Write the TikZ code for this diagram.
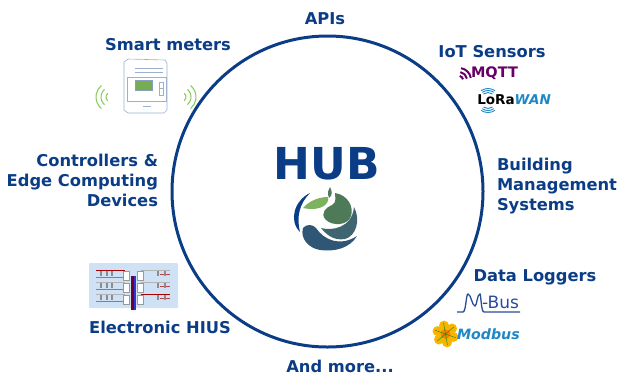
\documentclass[tikz,border=0pt]{standalone}
\usepackage{fontspec}
\setmainfont{DejaVu Sans}
\usetikzlibrary{positioning}
\definecolor{hubblue}{HTML}{0B3D87}
\definecolor{waves}{HTML}{8CCB5E}
\definecolor{panel}{HTML}{CFE2F5}
\definecolor{mqtt}{HTML}{660066}
\definecolor{wan}{HTML}{1E88C7}
\definecolor{busblue}{HTML}{2A4A9A}
\definecolor{leaf}{HTML}{7DB35E}
\definecolor{blob}{HTML}{4F7A58}
\definecolor{midteal}{HTML}{3F6670}
\definecolor{lowteal}{HTML}{2F5675}
\definecolor{petal}{HTML}{F7B500}
\begin{document}
\begin{tikzpicture}[
	x=1pt, y=-1pt,
	every node/.style={inner sep=0pt, outer sep=0pt},
	source/.style={text=hubblue,
				  font=\fontsize{16.3}{20}\selectfont\bfseries
	},
	wave/.style={waves, line width=1.1pt},
	meter/.style={draw=hubblue!40, line width=0.6pt, fill=white},
	pipe/.style={line width=0.7pt}
]
	\useasboundingbox (0,0) rectangle (618,376);
	\node (ring) [draw=hubblue, line width=3pt, circle, minimum size=311pt] at (327.5,191.5) {};
	\node (hub) [text=hubblue, font=\fontsize{44}{44}\selectfont\bfseries] at (327,164) {HUB};

	\node (apis) [source] at (325,19) {APIs};
	\node (smart) [source] at (168,45) {Smart meters};
	\node (iot) [source] at (492,52) {IoT Sensors};
	\node (bms) [source, align=left, anchor=west] at (497,186) {Building\\Management\\Systems};
	\node (loggers) [source] at (535,277) {Data Loggers};
	\node (more) [source] at (340,366) {And more...};
	\node (hius) [source] at (160,327) {Electronic HIUS};
	\node (edge) [source, align=right, anchor=east] at (158,180) {Controllers \&\\Edge Computing\\Devices};

	% logo
	\fill[hubblue] (310,193) .. controls (295,200) and (288,220) .. (300,232) .. controls (296,216) and (300,203) .. (310,193) -- cycle;
	\fill[blob] (329,198) .. controls (327,193) and (328,190) .. (330,187) .. controls (332,191) and (333,195) .. (329,198) -- cycle;
	\fill[leaf] (303,208) .. controls (310,200) and (320,197) .. (328,197) .. controls (330,203) and (322,212) .. (303,208) -- cycle;
	\fill[blob] (335,193) .. controls (348,195) and (354,207) .. (351,216) .. controls (348,226) and (332,226) .. (326,220) .. controls (319,213) and (327,207) .. (332,205) .. controls (337,202) and (335,197) .. (335,193) -- cycle;
	\fill[midteal] (354,207) .. controls (361,220) and (356,236) .. (345,239) .. controls (333,241) and (326,234) .. (321,228) .. controls (332,231) and (352,228) .. (354,207) -- cycle;
	\fill[lowteal] (303,228) .. controls (306,224) and (313,224) .. (316,228) .. controls (324,240) and (340,247) .. (357,236) .. controls (350,248) and (335,252) .. (320,250) .. controls (308,248) and (300,238) .. (303,228) -- cycle;

	% smart meter
	\draw[meter] (124,62) -- (128,59) -- (165,60) -- (167,63) -- (167,110) -- (164,113) -- (128,113) -- (124,110) -- cycle;
	\draw[meter] (135,68) -- (163,68) (135,72) -- (163,72);
	\draw[meter] (127,77) rectangle (166,101);
	\node (screen) [fill=waves!85!black, draw=hubblue!50, line width=0.3pt, minimum width=17pt, minimum height=10pt] at (144,85) {};
	\draw[meter] (159,82) rectangle (163,95) (159,88) -- (163,88);
	\draw[meter] (143,106) -- (151,106);
	\foreach \r in {5,10,15} {
		\draw[wave] (111,97) ++(130:\r) arc (130:230:\r);
		\draw[wave] (181,97) ++(-50:\r) arc (-50:50:\r);
	}

	% iot logos
	\node (mqtttext) [text=mqtt, font=\fontsize{14.5}{14}\selectfont\bfseries] at (494.5,73.5) {MQTT};
	\foreach \r in {4,8,12} {
		\draw[mqtt, line width=2pt] (459,80) ++(-80:\r) arc (-80:-10:\r);
	}
	\node (lora) [font=\fontsize{13.5}{14}\selectfont\bfseries] at (496,100) {LoRa};
	\node (wantext) [text=wan, font=\fontsize{13.5}{14}\selectfont\itshape\bfseries, right=0pt of lora] {WAN};
	\foreach \r in {8,10,12} {
		\draw[wan, line width=0.9pt] (488,100.5) ++(-125:\r) arc (-125:-55:\r);
		\draw[wan, line width=0.9pt] (488,100.5) ++(55:\r) arc (55:125:\r);
	}

	% hiu
	\node (hiupanel) [fill=panel, rounded corners=1pt, minimum width=89pt, minimum height=45pt] at (133.5,285.5) {};
	\foreach \y in {274,286,298} {
		\draw[blue!55!gray!70, pipe] (96,\y+3) -- (125,\y+3);
		\draw[gray!60, pipe] (96,\y-4) -- (125,\y-4);
		\draw[gray!60, pipe] (141,\y-4) -- (170,\y-4);
		\draw[red!50!gray, pipe] (160,\y) -- (170,\y);
		\foreach \x in {101,107,112,158,165} \fill[black!45] (\x-1.2,\y-3) rectangle (\x+1.2,\y+2);
		\foreach \x in {126,140} \draw[black!40, fill=white, line width=0.3pt] (\x-3,\y-3) rectangle (\x+3,\y+6);
	}
	\draw[red!65!black, line width=1pt] (96,270) -- (125,270) (141,294) -- (170,294);
	\fill[red!55!black!80!blue] (131,276) rectangle (133.5,310);
	\fill[blue!60!gray] (133.5,276) rectangle (136,310);

	% logger logos
	\draw[busblue, line width=1.3pt] (457,312) -- (463,312) .. controls (466,312) and (466,294) .. (468,294) .. controls (471,294) and (472,306) .. (475,306) .. controls (477,306) and (477,294) .. (480,294) .. controls (481,294) and (481,312) .. (484,312) -- (520,312);
	\node (busname) [text=busblue, font=\fontsize{17}{17}\selectfont, anchor=east] at (519,302.5) {-Bus};
	\foreach \a in {0,60,...,300} {
		\fill[petal] (445.5,334) ++(\a+20:8.5) circle (5);
	}
	\fill[orange] (445.5,334) circle (5);
	\foreach \a in {20,80,...,320} {
		\draw[green!55!black, line width=0.4pt] (445.5,334) -- ++(\a:11);
	}
	\node (modbus) [text=wan, font=\fontsize{14.2}{14}\selectfont\itshape\bfseries, anchor=west] at (457,334.5) {Modbus};
\end{tikzpicture}
\end{document}
